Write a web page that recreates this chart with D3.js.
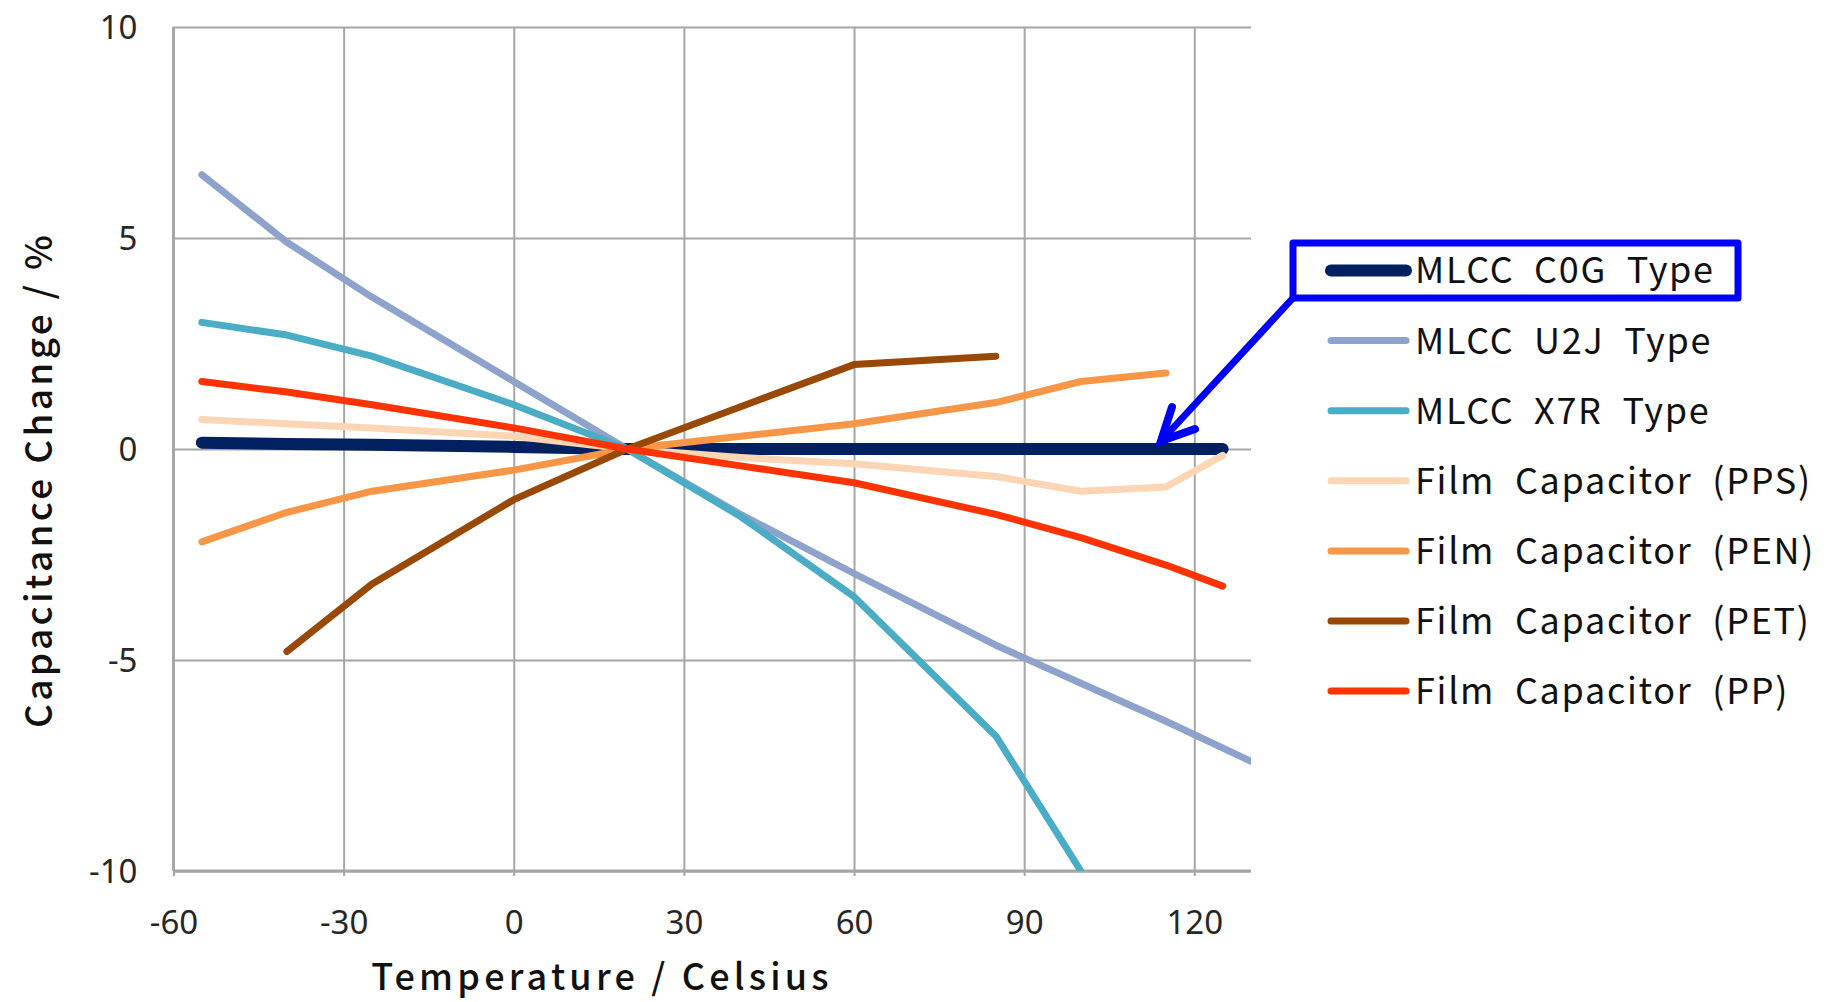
<!DOCTYPE html>
<html>
<head>
<meta charset="utf-8">
<script src="https://cdn.jsdelivr.net/npm/d3@7"></script>
<style>
  html, body { margin: 0; padding: 0; background: #fff; }
  svg { display: block; }
</style>
</head>
<body>
<svg id="chart" width="1837" height="1002"></svg>
<script>
// Temperature dependence of capacitance for several capacitor dielectrics.
const seriesNames = [
  "MLCC C0G Type",
  "MLCC U2J Type",
  "MLCC X7R Type",
  "Film Capacitor (PPS)",
  "Film Capacitor (PEN)",
  "Film Capacitor (PET)",
  "Film Capacitor (PP)"
];

// temperature (°C) and capacitance change (%) per series
const c0gTemps   = [-55, -40, -25, 0, 20, 40, 60, 85, 100, 115, 125];
const c0gValues  = [0.15, 0.12, 0.1, 0.05, 0, 0, 0, 0, 0, 0, 0];

const u2jTemps   = [-55, -40, -25, 0, 20, 40, 60, 85, 100, 115, 130];
const u2jValues  = [6.5, 4.9, 3.6, 1.6, 0, -1.55, -2.95, -4.65, -5.55, -6.45, -7.4];

const x7rTemps   = [-55, -40, -25, 0, 20, 40, 60, 85, 100];
const x7rValues  = [3.0, 2.7, 2.2, 1.05, 0, -1.6, -3.5, -6.8, -10];

const ppsTemps   = [-55, -40, -25, 0, 20, 40, 60, 85, 100, 115, 125];
const ppsValues  = [0.7, 0.6, 0.5, 0.3, 0, -0.2, -0.35, -0.65, -1.0, -0.9, -0.15];

const penTemps   = [-55, -40, -25, 0, 20, 40, 60, 85, 100, 115];
const penValues  = [-2.2, -1.5, -1.0, -0.5, 0, 0.3, 0.6, 1.1, 1.6, 1.8];

const petTemps   = [-40, -25, 0, 20, 40, 60, 85];
const petValues  = [-4.8, -3.2, -1.2, 0, 1.0, 2.0, 2.2];

const ppTemps    = [-55, -40, -25, 0, 20, 40, 60, 85, 100, 115, 125];
const ppValues   = [1.6, 1.35, 1.05, 0.5, 0, -0.4, -0.8, -1.55, -2.1, -2.75, -3.25];

const xTicks = [-60, -30, 0, 30, 60, 90, 120];
const yTicks = [-10, -5, 0, 5, 10];

const seriesColors = ["#002060", "#8DA3CC", "#4BACC6", "#FCD5B4", "#F79646", "#984807", "#FF3300"];
const seriesWidths = [12, 7, 7, 7, 7, 7, 7];

const seriesData = [
  [c0gTemps, c0gValues],
  [u2jTemps, u2jValues],
  [x7rTemps, x7rValues],
  [ppsTemps, ppsValues],
  [penTemps, penValues],
  [petTemps, petValues],
  [ppTemps, ppValues]
].map(([t, v]) => t.map((x, i) => ({ t: x, v: v[i] })));

const svg = d3.select("#chart");
const plot = { left: 173.5, top: 27, right: 1251, bottom: 871 };

const x = d3.scaleLinear().domain([-60, 130]).range([plot.left, plot.right]);
const y = d3.scaleLinear().domain([-10, 10]).range([plot.bottom, plot.top]);

const gridColor = "#A6A6A6";
const tickFont = "'Noto Sans', 'DejaVu Sans', sans-serif";
const labelFont = "'Noto Sans CJK JP', 'Noto Sans', sans-serif";
const plainNumber = d => String(d);

svg.append("defs").append("clipPath").attr("id", "plotClip")
  .append("rect")
  .attr("x", plot.left).attr("y", plot.top - 10)
  .attr("width", plot.right - plot.left).attr("height", plot.bottom - plot.top + 10);

// horizontal gridlines
svg.append("g")
  .attr("transform", `translate(${plot.left},0)`)
  .call(d3.axisRight(y).tickValues(yTicks).tickSize(plot.right - plot.left).tickFormat(""))
  .call(g => g.select(".domain").remove())
  .call(g => g.selectAll("line").attr("stroke", gridColor).attr("stroke-width", 2));

// vertical gridlines
svg.append("g")
  .attr("transform", `translate(0,${plot.top})`)
  .call(d3.axisBottom(x).tickValues(xTicks).tickSize(plot.bottom - plot.top + 5).tickFormat(""))
  .call(g => g.select(".domain").remove())
  .call(g => g.selectAll("line").attr("stroke", gridColor).attr("stroke-width", 2));

// left and bottom axis lines
svg.append("line")
  .attr("x1", plot.left).attr("x2", plot.left)
  .attr("y1", plot.top).attr("y2", plot.bottom)
  .attr("stroke", gridColor).attr("stroke-width", 3);
svg.append("line")
  .attr("x1", plot.left).attr("x2", plot.right)
  .attr("y1", plot.bottom).attr("y2", plot.bottom)
  .attr("stroke", gridColor).attr("stroke-width", 3);

// tick labels
const yAxis = svg.append("g")
  .attr("transform", `translate(${plot.left},0)`)
  .call(d3.axisLeft(y).tickValues(yTicks).tickSize(0).tickPadding(36).tickFormat(plainNumber));
yAxis.select(".domain").remove();
yAxis.selectAll("text")
  .attr("font-family", tickFont).attr("font-size", 33).attr("fill", "#262626")
  .attr("dy", "0.34em");

const xAxis = svg.append("g")
  .attr("transform", `translate(0,${plot.bottom})`)
  .call(d3.axisBottom(x).tickValues(xTicks).tickSize(0).tickPadding(40).tickFormat(plainNumber));
xAxis.select(".domain").remove();
xAxis.selectAll("text")
  .attr("font-family", tickFont).attr("font-size", 33).attr("fill", "#262626")
  .attr("dy", "0.7em");

// axis titles
svg.append("text")
  .attr("x", 602).attr("y", 990)
  .attr("text-anchor", "middle")
  .attr("font-family", labelFont).attr("font-size", 36).attr("font-weight", 500)
  .attr("letter-spacing", 4.2)
  .attr("fill", "#111")
  .text("Temperature / Celsius");

svg.append("text")
  .attr("transform", "translate(52,480) rotate(-90)")
  .attr("text-anchor", "middle")
  .attr("font-family", labelFont).attr("font-size", 37).attr("font-weight", 500)
  .attr("letter-spacing", 3.3)
  .attr("fill", "#111")
  .text("Capacitance Change / %");

// series lines
const line = d3.line().x(d => x(d.t)).y(d => y(d.v));
svg.append("g").attr("clip-path", "url(#plotClip)")
  .selectAll("path")
  .data(seriesData)
  .join("path")
  .attr("d", line)
  .attr("fill", "none")
  .attr("stroke", (d, i) => seriesColors[i])
  .attr("stroke-width", (d, i) => seriesWidths[i])
  .attr("stroke-linecap", "round")
  .attr("stroke-linejoin", "round");

// legend
const legend = svg.append("g").attr("transform", "translate(1325,270.5)");
const rows = legend.selectAll("g")
  .data(seriesNames)
  .join("g")
  .attr("transform", (d, i) => `translate(0,${i * 70.1})`);
rows.append("line")
  .attr("x1", 6).attr("x2", 81)
  .attr("stroke", (d, i) => seriesColors[i])
  .attr("stroke-width", (d, i) => seriesWidths[i])
  .attr("stroke-linecap", "round");
rows.append("text")
  .attr("x", 90).attr("dy", "0.36em")
  .attr("font-family", labelFont).attr("font-size", 36)
  .attr("letter-spacing", 1.7).attr("word-spacing", 10)
  .attr("fill", "#111")
  .text(d => d);

// highlight box around the C0G entry, with a pointer to its curve
const hl = "#0000FF";
svg.append("rect")
  .attr("x", 1293).attr("y", 243)
  .attr("width", 445).attr("height", 55)
  .attr("fill", "none").attr("stroke", hl).attr("stroke-width", 7)
  .attr("stroke-linejoin", "round");
svg.append("line")
  .attr("x1", 1293).attr("y1", 298)
  .attr("x2", 1162).attr("y2", 440)
  .attr("stroke", hl).attr("stroke-width", 7).attr("stroke-linecap", "round");
svg.append("polyline")
  .attr("points", "1172,407 1161,441 1195,429")
  .attr("fill", "none").attr("stroke", hl).attr("stroke-width", 8)
  .attr("stroke-linecap", "round").attr("stroke-linejoin", "miter");
</script>
</body>
</html>
